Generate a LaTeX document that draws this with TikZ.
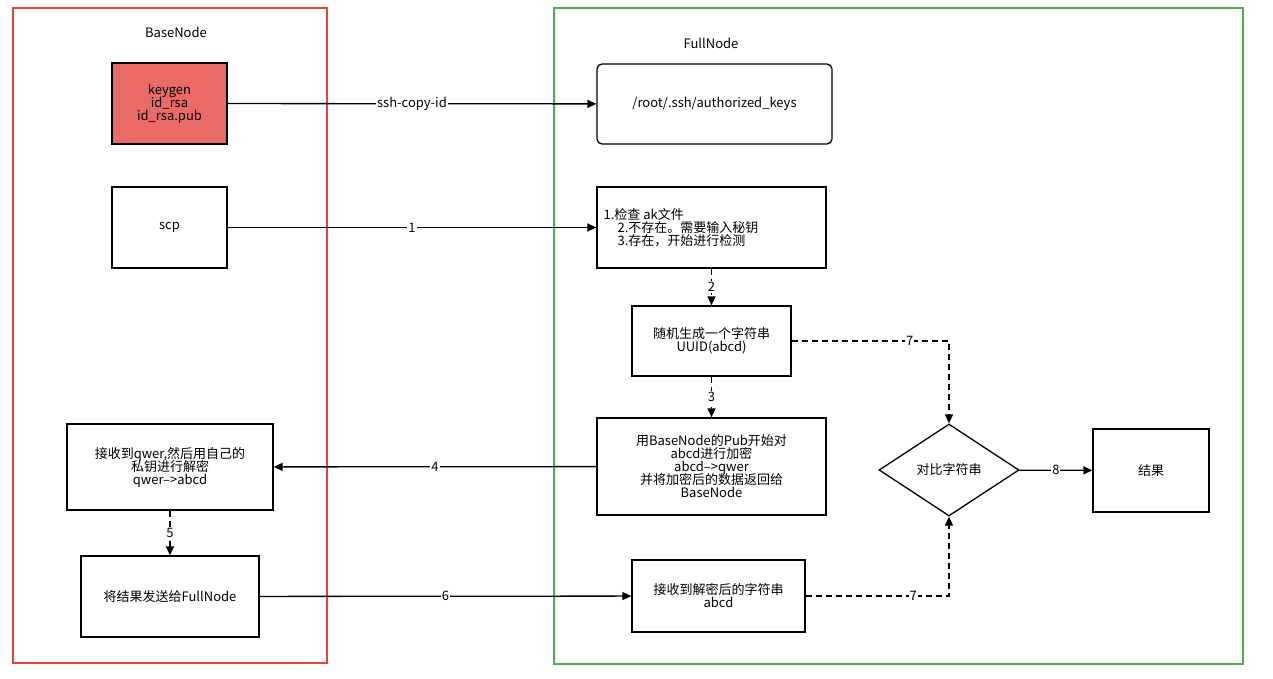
\documentclass[tikz,border=0pt]{standalone}
\usepackage{fontspec}
\setmainfont{Noto Sans CJK SC}
\usetikzlibrary{shapes.geometric,arrows.meta}
\begin{document}
\begin{tikzpicture}[x=1pt,y=-1pt,
  every node/.style={font=\fontsize{13}{16}\selectfont},
  box/.style={draw,line width=1.3pt,align=center,inner sep=0pt},
  arr/.style={line width=1.3pt,-{Triangle[length=9pt,width=8pt]}},
  dsh/.style={arr,dash pattern=on 6pt off 4pt},
  lab/.style={fill=white,inner sep=1pt,font=\fontsize{13}{16}\selectfont}]
\useasboundingbox (0,0) rectangle (1273,679);
\fill[white] (0,0) rectangle (1273,679);
\draw[line width=1.3pt,draw={rgb,255:red,234;green,67;blue,53}] (13,8) rectangle (327,663);
\draw[line width=1.3pt,draw={rgb,255:red,76;green,175;blue,80}] (554,8) rectangle (1243,664);
\node (t1) at (176,32) {BaseNode};
\node (t2) at (711,43) {FullNode};
\node[box,fill={rgb,255:red,234;green,107;blue,102},minimum width=115pt,minimum height=81pt] (kg) at (169.5,103.5) {keygen\\[-3pt]id\_rsa\\[-3pt]id\_rsa.pub};
\node[box,rounded corners=5pt,minimum width=235pt,minimum height=80pt] (ak) at (714.5,104) {/root/.ssh/authorized\_keys};
\node[box,minimum width=115pt,minimum height=81pt] (scp) at (169.5,227.5) {scp};
\node[box,minimum width=229pt,minimum height=81pt,align=left] (chk) at (711.5,227.5) {\hspace*{-14pt}1.检查 ak文件\\[-3pt]2.不存在。需要输入秘钥\\[-3pt]3.存在，开始进行检测\hspace*{60pt}};
\node[box,minimum width=159pt,minimum height=70pt] (rnd) at (711.5,341) {随机生成一个字符串\\[-3pt]UUID(abcd)};
\node[box,minimum width=229pt,minimum height=97pt] (enc) at (711.5,466.5) {用BaseNode的Pub开始对\\[-3pt]abcd进行加密\\[-3pt]abcd-->qwer\\[-3pt]并将加密后的数据返回给\\[-3pt]BaseNode};
\node[box,minimum width=206pt,minimum height=86pt] (rq) at (170,467) {接收到qwer,然后用自己的\\[-3pt]私钥进行解密\\[-3pt]qwer-->abcd};
\node[box,minimum width=178pt,minimum height=81pt] (snd) at (170,596.5) {将结果发送给FullNode};
\node[box,minimum width=173pt,minimum height=72pt] (rd) at (718.5,596) {接收到解密后的字符串\\[-3pt]abcd};
\node[box,diamond,minimum width=140pt,minimum height=92pt] (dm) at (949,470) {对比字符串};
\node[box,minimum width=116pt,minimum height=83pt] (res) at (1151,470.5) {结果};
\draw[arr] (kg) -- node[lab]{ssh-copy-id} (ak);
\draw[arr] (scp) -- node[lab]{1} (chk);
\draw[dsh] (chk) -- node[lab]{2} (rnd);
\draw[dsh] (rnd) -- node[lab]{3} (enc);
\draw[arr] (enc) -- node[lab]{4} (rq);
\draw[dsh] (rq) -- node[lab]{5} (snd);
\draw[arr] (snd) -- node[lab]{6} (rd);
\draw[dsh] (rnd.east) -- node[lab,pos=0.75]{7} (dm.north |- rnd.east) -- (dm.north);
\draw[dsh] (rd.east) -- node[lab,pos=0.75]{7} (dm.south |- rd.east) -- (dm.south);
\draw[arr] (dm) -- node[lab]{8} (res);
\end{tikzpicture}
\end{document}
